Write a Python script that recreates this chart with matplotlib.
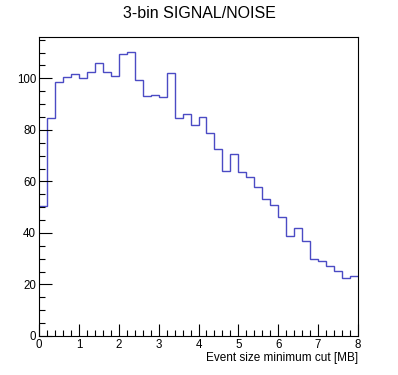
import matplotlib.pyplot as plt
import numpy as np
from matplotlib.ticker import MultipleLocator

# --- Data: 40 bins of 0.2 MB from 0 to 8 ---
bin_edges = np.linspace(0, 8, 41)
signal_noise = [50.5, 84.5, 98.7, 100.7, 101.5, 100.3, 102.3, 105.8, 102.3, 100.8,
                109.3, 110.4, 99.2, 93.0, 93.6, 92.7, 101.9, 84.5, 86.1, 81.8,
                84.9, 78.7, 72.6, 64.1, 70.5, 63.7, 61.7, 57.9, 53.2, 50.9,
                46.3, 38.9, 41.9, 37.0, 29.8, 29.3, 27.0, 25.4, 22.7, 23.1]

plt.rcParams['font.family'] = ['Liberation Sans', 'DejaVu Sans']

fig = plt.figure(figsize=(3.98, 3.75), dpi=100)
ax = fig.add_axes([0.098, 0.104, 0.8015, 0.797])

ax.stairs(signal_noise, bin_edges, color='#4b4bc4', lw=1.0, baseline=None)

ax.set_xlim(0, 8)
ax.set_ylim(0, 116)

# --- ROOT-like ticks ---
ax.xaxis.set_major_locator(MultipleLocator(1))
ax.xaxis.set_minor_locator(MultipleLocator(0.2))
ax.yaxis.set_major_locator(MultipleLocator(20))
ax.yaxis.set_minor_locator(MultipleLocator(5))
ax.tick_params(which='both', direction='in', top=False, right=False,
               labelsize=8.3, width=0.8, pad=2)
ax.tick_params(which='major', length=9)
ax.tick_params(which='minor', length=4.5)
for s in ax.spines.values():
    s.set_linewidth(0.8)

ax.set_xlabel('Event size minimum cut [MB]', fontsize=8.5, loc='right', labelpad=1)
fig.suptitle('3-bin SIGNAL/NOISE', fontsize=11.5, y=0.985)

plt.savefig('out.png', dpi=100)
